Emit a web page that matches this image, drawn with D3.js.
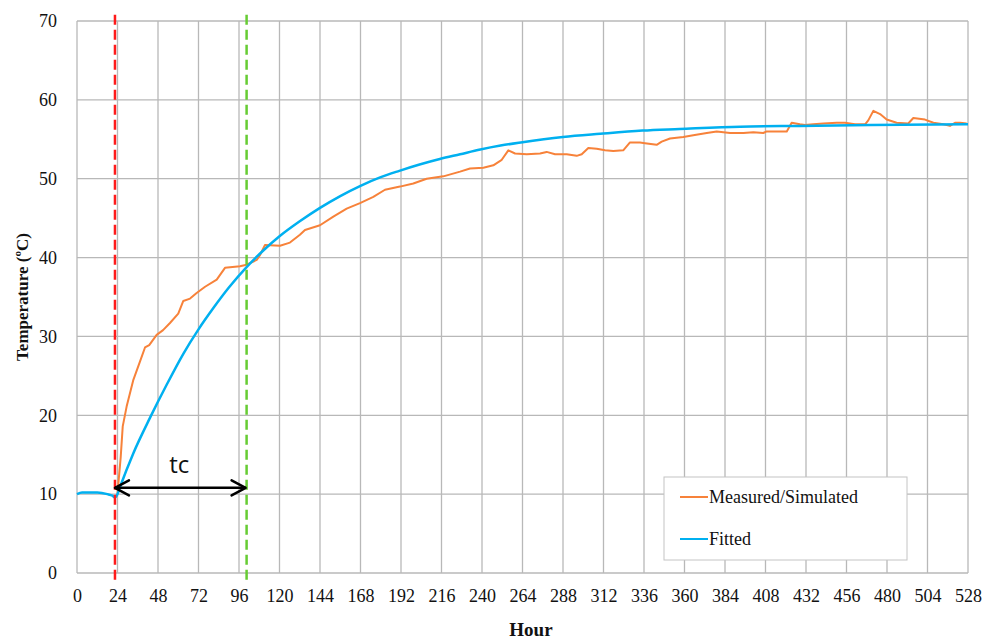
<!DOCTYPE html>
<html>
<head>
<meta charset="utf-8">
<script src="https://cdn.jsdelivr.net/npm/d3@7"></script>
<style>
  body { margin: 0; background: #fff; }
  svg text { font-family: "Liberation Serif", "Times New Roman", serif; fill: #111; }
</style>
</head>
<body>
<svg id="chart" width="984" height="640"></svg>
<script>
// Tick values
const hourTicks = d3.range(0, 529, 24);
const tempTicks = d3.range(0, 71, 10);

// Measured/Simulated series (hour, temperature)
const measuredHours = [24, 25.9, 27.1, 29.4, 33.4, 37.3, 40.3, 42.8, 47.2, 51, 55.1, 60, 63, 67, 70.9, 75.9, 82.8, 87.7,
  96.6, 100.5, 106.5, 108.4, 111.4, 120.3, 126.2, 132.1, 135.1, 144, 151.9, 159.8, 167.7, 175.6, 182.5, 191.4, 199.3,
  207.2, 217.1, 227, 232.9, 240.8, 246.7, 251.7, 255.6, 259.6, 266.5, 274.4, 278.3, 283.3, 290.2, 296.1, 299.1, 303,
  308, 312.9, 317.8, 323.7, 327.7, 333.6, 336.6, 343.5, 346.5, 351.4, 359.3, 365.2, 373.2, 379.1, 387, 394.9, 400.8,
  406.7, 408.7, 420.6, 423.5, 428.4, 431.4, 436.3, 442.3, 450.2, 455.1, 461, 467, 468.9, 471.9, 475.9, 479.8, 485.7,
  492.6, 495.6, 502.5, 507.5, 513.4, 517.3, 520.3, 523.3, 527.2];
const measuredTemps = [10.1, 14.7, 18.6, 21.1, 24.5, 26.8, 28.6, 28.9, 30.2, 30.8, 31.7, 32.9, 34.5, 34.8, 35.5, 36.3, 37.2, 38.7,
  38.9, 39.1, 39.7, 40.3, 41.6, 41.5, 41.9, 42.9, 43.5, 44.1, 45.2, 46.2, 46.9, 47.7, 48.6, 49.0, 49.4,
  50.0, 50.3, 50.9, 51.3, 51.4, 51.7, 52.4, 53.6, 53.2, 53.1, 53.2, 53.4, 53.1, 53.1, 52.9, 53.1, 53.9,
  53.8, 53.6, 53.5, 53.6, 54.6, 54.6, 54.5, 54.3, 54.7, 55.1, 55.3, 55.5, 55.8, 56.0, 55.8, 55.8, 55.9,
  55.8, 56.0, 56.0, 57.1, 56.9, 56.8, 56.9, 57.0, 57.1, 57.1, 56.9, 56.9, 57.4, 58.6, 58.2, 57.5, 57.1,
  57.0, 57.7, 57.5, 57.1, 56.9, 56.7, 57.1, 57.1, 57.0];

// Fitted series
const fittedHours = [0, 3, 12, 18, 21, 22.5, 24, 25.5, 33.4, 43.3, 53.2, 63, 72, 80.8, 90, 100.5, 110.4, 120, 132, 144, 156,
  168, 180, 191, 203, 215, 227, 239, 251, 263, 288, 310, 335, 357, 393, 428, 470, 528];
const fittedTemps = [10.0, 10.2, 10.2, 10.0, 9.8, 9.6, 10.0, 10.9, 15.2, 19.7, 23.9, 27.8, 30.9, 33.6, 36.2, 38.8, 40.9, 42.7, 44.6, 46.3, 47.8,
  49.1, 50.2, 51.0, 51.8, 52.5, 53.1, 53.7, 54.2, 54.6, 55.3, 55.7, 56.1, 56.3, 56.6, 56.7, 56.8, 56.9];

// Time-constant markers
const startHour = 22.5;
const endHour = 100.5;
const arrowTemp = 10.8;

const series = [
  { name: "Measured/Simulated", color: "#f7823a", width: 2, hours: measuredHours, temps: measuredTemps, curve: d3.curveLinear },
  { name: "Fitted", color: "#00b0f0", width: 2.5, hours: fittedHours, temps: fittedTemps, curve: d3.curveMonotoneX }
];

const margin = { top: 21, right: 16, bottom: 67, left: 77 };
const width = 984 - margin.left - margin.right;
const height = 640 - margin.top - margin.bottom;

const svg = d3.select("#chart");
const g = svg.append("g").attr("transform", `translate(${margin.left},${margin.top})`);

const x = d3.scaleLinear().domain([0, 528]).range([0, width]);
const y = d3.scaleLinear().domain([0, 70]).range([height, 0]);

// --- Grid ---
g.append("g").selectAll("line").data(tempTicks).join("line")
  .attr("x1", 0).attr("x2", width)
  .attr("y1", d => y(d)).attr("y2", d => y(d))
  .attr("stroke", "#b8b8b8").attr("stroke-width", 1.3);
g.append("g").selectAll("line").data(hourTicks).join("line")
  .attr("y1", 0).attr("y2", height)
  .attr("x1", d => x(d)).attr("x2", d => x(d))
  .attr("stroke", "#b8b8b8").attr("stroke-width", 1.3);

// --- Axes (labels only) ---
const xAxis = g.append("g").attr("transform", `translate(0,${height})`)
  .call(d3.axisBottom(x).tickValues(hourTicks).tickSize(0).tickPadding(16));
const yAxis = g.append("g")
  .call(d3.axisLeft(y).tickValues(tempTicks).tickSize(0).tickPadding(20));
[xAxis, yAxis].forEach(a => {
  a.select(".domain").remove();
  a.selectAll("text").style("font-family", "'Liberation Serif', serif").style("font-size", "18px").attr("fill", "#111");
});

// --- Series ---
series.forEach(s => {
  const pts = s.hours.map((h, i) => [h, s.temps[i]]);
  g.append("path")
    .datum(pts)
    .attr("fill", "none")
    .attr("stroke", s.color)
    .attr("stroke-width", s.width)
    .attr("stroke-linejoin", "round")
    .attr("d", d3.line().x(d => x(d[0])).y(d => y(d[1])).curve(s.curve));
});

// --- Dashed markers ---
[[startHour, "#ff1a1a"], [endHour, "#66cc33"]].forEach(([h, c]) => {
  g.append("line")
    .attr("x1", x(h)).attr("x2", x(h))
    .attr("y1", y(70.8)).attr("y2", y(-1.3))
    .attr("stroke", c).attr("stroke-width", 2.5)
    .attr("stroke-dasharray", "10,5");
});

// --- tc arrow ---
const ay = y(arrowTemp);
const x0 = x(startHour), x1 = x(endHour) - 1;
g.append("line").attr("x1", x0).attr("x2", x1).attr("y1", ay).attr("y2", ay)
  .attr("stroke", "#000").attr("stroke-width", 2.5);
g.append("path")
  .attr("d", `M${x0 + 14},${ay - 7.5}L${x0},${ay}L${x0 + 14},${ay + 7.5}M${x1 - 14},${ay - 7.5}L${x1},${ay}L${x1 - 14},${ay + 7.5}`)
  .attr("fill", "none").attr("stroke", "#000").attr("stroke-width", 2.5)
  .attr("stroke-linecap", "round").attr("stroke-linejoin", "round");
g.append("text")
  .attr("x", (x0 + x1) / 2 - 1).attr("y", ay - 15)
  .attr("text-anchor", "middle")
  .style("font-family", "'Open Sans', 'Noto Sans', sans-serif")
  .style("font-size", "24px")
  .text("tc");

// --- Legend ---
const lg = svg.append("g").attr("transform", "translate(664,477)");
lg.append("rect").attr("width", 243).attr("height", 83)
  .attr("fill", "#fff").attr("stroke", "#c4c4c4").attr("stroke-width", 1);
series.forEach((s, i) => {
  const ly = 20 + i * 42;
  lg.append("line").attr("x1", 16).attr("x2", 44).attr("y1", ly).attr("y2", ly)
    .attr("stroke", s.color).attr("stroke-width", 2);
  lg.append("text").attr("x", 45).attr("y", ly + 6)
    .style("font-size", "18px").text(s.name);
});

// --- Axis titles ---
svg.append("text")
  .attr("x", margin.left + x(269)).attr("y", 636)
  .attr("text-anchor", "middle")
  .style("font-size", "19px").style("font-weight", "bold")
  .text("Hour");
svg.append("text")
  .attr("transform", `translate(28,${margin.top + y(35)}) rotate(-90)`)
  .attr("text-anchor", "middle")
  .style("font-size", "17px").style("font-weight", "bold")
  .text("Temperature (ºC)");
</script>
</body>
</html>
